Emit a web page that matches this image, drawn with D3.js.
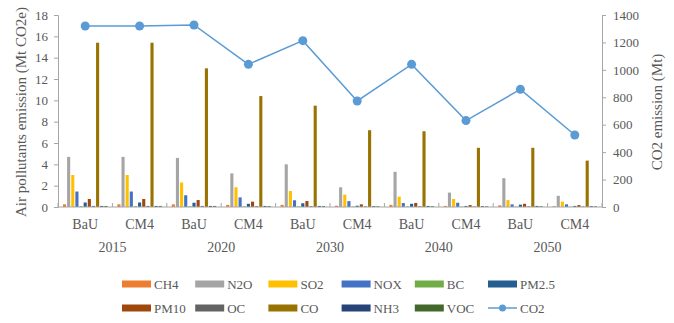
<!DOCTYPE html>
<html><head><meta charset="utf-8">
<script src="https://cdn.jsdelivr.net/npm/d3@7"></script>
<style>
html,body{margin:0;padding:0;background:#fff;}
</style></head>
<body><svg id="chart" width="674" height="323" font-family="Liberation Serif, Times New Roman, DejaVu Serif, serif"></svg>
<script>
// Scenario categories (year / scenario)
const years = ["2015","2020","2030","2040","2050"];
const scenarios = ["BaU","CM4","BaU","CM4","BaU","CM4","BaU","CM4","BaU","CM4"];
const pollutants = ["CH4","N2O","SO2","NOX","BC","PM2.5","PM10","OC","CO","NH3","VOC"];
const colors = ["#ED7D31","#A5A5A5","#FFC000","#4472C4","#70AD47","#255E91","#9E480E","#636363","#997300","#264478","#43682B"];
const co2Color = "#5B9BD5";
const FONT = "Liberation Serif, Times New Roman, DejaVu Serif, serif";
const TEXT_COLOR = "#595959";

// Air pollutant emissions (Mt CO2e), one array per pollutant, per scenario column
const CH4  = [0.25,0.25,0.25,0.2,0.2,0.12,0.2,0.1,0.15,0.08];
const N2O  = [4.7,4.7,4.6,3.15,4.0,1.85,3.3,1.35,2.7,1.05];
const SO2  = [3.0,3.0,2.3,1.85,1.5,1.15,0.97,0.75,0.65,0.5];
const NOX  = [1.45,1.45,1.1,0.9,0.63,0.55,0.37,0.4,0.25,0.25];
const BC   = [0.08,0.08,0.07,0.06,0.06,0.05,0.05,0.04,0.04,0.03];
const PM25 = [0.42,0.42,0.4,0.3,0.35,0.12,0.3,0.1,0.22,0.1];
const PM10 = [0.75,0.75,0.65,0.5,0.56,0.25,0.38,0.18,0.3,0.18];
const OC   = [0.1,0.1,0.1,0.08,0.08,0.06,0.07,0.05,0.06,0.05];
const CO   = [15.4,15.4,13.0,10.4,9.5,7.2,7.1,5.55,5.55,4.35];
const NH3  = [0.1,0.1,0.1,0.1,0.1,0.08,0.1,0.08,0.1,0.08];
const VOC  = [0.1,0.1,0.1,0.09,0.09,0.07,0.08,0.06,0.07,0.06];
const series = [CH4,N2O,SO2,NOX,BC,PM25,PM10,OC,CO,NH3,VOC];

// CO2 emissions (Mt), right axis
const CO2 = [1320,1320,1327,1040,1213,773,1040,630,858,525];

const leftTicks = [0,2,4,6,8,10,12,14,16,18];
const rightTicks = [0,200,400,600,800,1000,1200,1400];

const svg = d3.select("#chart");
const m = {left:58, right:602, top:15, bottom:207};

const x0 = d3.scaleBand().domain(d3.range(scenarios.length)).range([m.left,m.right]).padding(0);
const x1 = d3.scaleBand().domain(d3.range(pollutants.length)).range([0,x0.bandwidth()])
  .paddingInner(0.25).paddingOuter(1.2);
const yL = d3.scaleLinear().domain([0,18]).range([m.bottom,m.top]);
const yR = d3.scaleLinear().domain([0,1400]).range([m.bottom,m.top]);

// Bars
const groups = svg.append("g").selectAll("g").data(scenarios).join("g")
  .attr("transform",(d,i)=>`translate(${x0(i)},0)`);
groups.selectAll("rect").data((d,i)=>series.map((s,k)=>({k,v:s[i]}))).join("rect")
  .attr("x",d=>x1(d.k)).attr("width",x1.bandwidth())
  .attr("y",d=>yL(d.v)).attr("height",d=>yL(0)-yL(d.v))
  .attr("fill",d=>colors[d.k]);

// Axes
const axisColor = "#a6a6a6";
const gl = svg.append("g").attr("transform",`translate(${m.left},0)`)
  .call(d3.axisLeft(yL).tickValues(leftTicks).tickSize(4).tickPadding(6).tickFormat(d3.format("d")));
const gr = svg.append("g").attr("transform",`translate(${m.right},0)`)
  .call(d3.axisRight(yR).tickValues(rightTicks).tickSize(4).tickPadding(7).tickFormat(d3.format("d")));
[gl,gr].forEach(g=>{
  g.attr("font-family",FONT).attr("font-size",13);
  g.select(".domain").attr("stroke",axisColor);
  g.selectAll(".tick line").attr("stroke",axisColor);
  g.selectAll("text").attr("fill",TEXT_COLOR);
});

// Bottom axis line and category separators
svg.append("line").attr("x1",m.left).attr("x2",m.right).attr("y1",m.bottom).attr("y2",m.bottom)
  .attr("stroke",axisColor);
svg.append("g").selectAll("line").data(d3.range(scenarios.length+1)).join("line")
  .attr("x1",i=>m.left+i*x0.step()).attr("x2",i=>m.left+i*x0.step())
  .attr("y1",m.bottom).attr("y2",m.bottom-4).attr("stroke",axisColor);

// Scenario and year labels
const txt = sel => sel.attr("font-family",FONT).attr("fill",TEXT_COLOR);
svg.append("g").selectAll("text").data(scenarios).join("text").call(txt)
  .attr("x",(d,i)=>x0(i)+x0.bandwidth()/2).attr("y",229)
  .attr("text-anchor","middle").attr("font-size",14).text(d=>d);
svg.append("g").selectAll("text").data(years).join("text").call(txt)
  .attr("x",(d,i)=>x0(2*i)+x0.bandwidth()).attr("y",252)
  .attr("text-anchor","middle").attr("font-size",14).text(d=>d);

// CO2 line
const line = d3.line().x((d,i)=>x0(i)+x0.bandwidth()/2).y(d=>yR(d));
svg.append("path").datum(CO2).attr("d",line).attr("fill","none")
  .attr("stroke",co2Color).attr("stroke-width",1.5);
svg.append("g").selectAll("circle").data(CO2).join("circle")
  .attr("cx",(d,i)=>x0(i)+x0.bandwidth()/2).attr("cy",d=>yR(d)).attr("r",4.5)
  .attr("fill",co2Color);

// Axis titles
svg.append("text").call(txt).attr("transform",`translate(26,112) rotate(-90)`)
  .attr("text-anchor","middle").attr("font-size",15).text("Air pollutants emission (Mt CO2e)");
svg.append("text").call(txt).attr("transform",`translate(662,112) rotate(-90)`)
  .attr("text-anchor","middle").attr("font-size",15).text("CO2 emission (Mt)");

// Legend
const legendItems = pollutants.map((p,i)=>({name:p,color:colors[i],type:"bar"}))
  .concat([{name:"CO2",color:co2Color,type:"line"}]);
const colX = d3.scalePoint().domain(d3.range(6)).range([122,488]);
const rowY = [284,308];
const lg = svg.append("g").selectAll("g").data(legendItems).join("g")
  .attr("transform",(d,i)=>`translate(${colX(i%6)},${rowY[Math.floor(i/6)]})`);
lg.filter(d=>d.type==="bar").append("rect").attr("x",0).attr("y",-3.5).attr("width",29).attr("height",7)
  .attr("fill",d=>d.color);
const ll = lg.filter(d=>d.type==="line");
ll.append("line").attr("x1",0).attr("x2",29).attr("y1",0).attr("y2",0)
  .attr("stroke",co2Color).attr("stroke-width",1.5);
ll.append("circle").attr("cx",14.5).attr("cy",0).attr("r",3.5).attr("fill",co2Color);
lg.append("text").call(txt).attr("x",32).attr("y",4.5).attr("font-size",13).text(d=>d.name);
</script></body></html>
